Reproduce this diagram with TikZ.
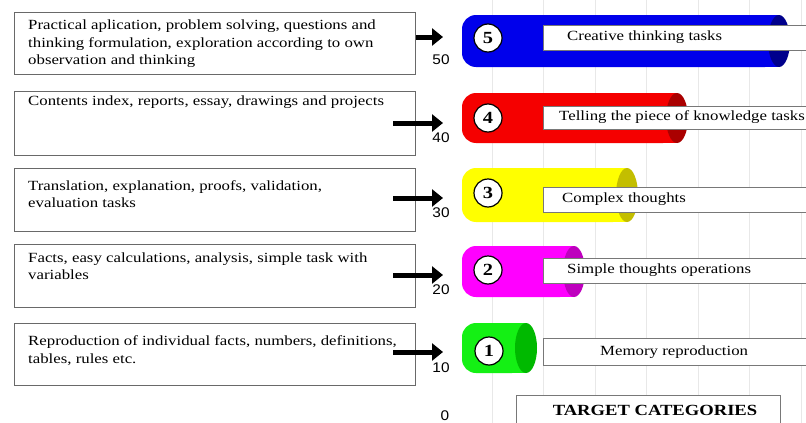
\documentclass[tikz,border=0pt]{standalone}
\usepackage{fontspec}
\setmainfont[FakeStretch=1.2]{Liberation Serif}
\newfontfamily\numfont[FakeStretch=1.1]{Liberation Sans}
\usetikzlibrary{arrows.meta}
\definecolor{cblue}{RGB}{0,0,235}
\definecolor{cbluecap}{RGB}{0,0,140}
\definecolor{cred}{RGB}{245,0,0}
\definecolor{credcap}{RGB}{170,0,0}
\definecolor{cyel}{RGB}{255,255,0}
\definecolor{cyelcap}{RGB}{195,190,0}
\definecolor{cmag}{RGB}{255,0,255}
\definecolor{cmagcap}{RGB}{190,0,190}
\definecolor{cgrn}{RGB}{20,240,20}
\definecolor{cgrncap}{RGB}{0,185,0}
\definecolor{boxline}{RGB}{105,105,105}
\definecolor{lblline}{RGB}{120,120,120}
\definecolor{gridc}{RGB}{232,232,232}
\newcommand\cylbody[7]{% fill, cap, xl, xr, yt, yb, ycenter
  \fill[#1,rounded corners=14pt] (#3,#5) rectangle ({#4-11},#6);
  \fill[#1] ({#3+20},#5) rectangle ({#4-11},#6);
  \fill[#2] ({#4-11},#7) ellipse [x radius=11pt, y radius={(#6-#5)/2*1pt}];
}
\begin{document}
\begin{tikzpicture}[x=1pt,y=-1pt,
  leftbox/.style={draw=boxline, line width=1.2pt, minimum width=401pt, anchor=north west, inner sep=0pt},
  lefttext/.style={anchor=north west, align=left, font=\fontsize{14}{17.5}\selectfont, inner sep=0pt},
  lblbox/.style={draw=lblline, line width=1.3pt, fill=white, minimum width=300pt, anchor=north west, inner sep=0pt},
  lbltext/.style={anchor=west, font=\fontsize{14}{17}\selectfont, inner sep=0pt},
  numcirc/.style={circle, draw=black, fill=white, line width=1.2pt, minimum size=28pt, inner sep=0pt, font=\fontsize{17}{17}\selectfont\bfseries},
  axisnum/.style={font=\numfont\fontsize{14}{14}\selectfont, inner sep=0pt},
  bigarrow/.style={line width=5pt, -{Triangle[length=11pt,width=17pt]}},
  gridline/.style={draw=gridc, line width=0.8pt}]
\useasboundingbox (0,0) rectangle (806,423);
\fill[white] (0,0) rectangle (806,423);
% background grid
\foreach \gx in {492,543.5,595,646.5,698,749.5,801}
  \draw[gridline] (\gx,0) -- (\gx,423);
% left boxes
\node[leftbox, minimum height=62pt] (b5) at (14,12) {};
\node[leftbox, minimum height=64pt] (b4) at (14,91) {};
\node[leftbox, minimum height=63pt] (b3) at (14,168) {};
\node[leftbox, minimum height=63pt] (b2) at (14,244) {};
\node[leftbox, minimum height=62pt] (b1) at (14,323) {};
\node[lefttext] (t5) at (28,20) {Practical aplication, problem solving, questions and\\thinking formulation, exploration according to own\\observation and thinking};
\node[lefttext] (t4) at (28,96) {Contents index, reports, essay, drawings and projects};
\node[lefttext] (t3) at (28,180) {Translation, explanation, proofs, validation,\\evaluation tasks};
\node[lefttext] (t2) at (28,252.5) {Facts, easy calculations, analysis, simple task with\\variables};
\node[lefttext] (t1) at (28,335.5) {Reproduction of individual facts, numbers, definitions,\\tables, rules etc.};
% arrows
\coordinate (a5s) at (416,37); \coordinate (a5e) at (443,37);
\coordinate (a4s) at (393,123); \coordinate (a4e) at (443,123);
\coordinate (a3s) at (393,198); \coordinate (a3e) at (443,198);
\coordinate (a2s) at (393,275); \coordinate (a2e) at (443,275);
\coordinate (a1s) at (393,352); \coordinate (a1e) at (443,352);
\foreach \i in {1,...,5} \draw[bigarrow] (a\i s) -- (a\i e);
% axis numbers
\node[axisnum] (n50) at (441,60) {50};
\node[axisnum] (n40) at (441,138) {40};
\node[axisnum] (n30) at (441,213) {30};
\node[axisnum] (n20) at (441,290) {20};
\node[axisnum] (n10) at (441,368) {10};
\node[axisnum] (n0) at (445,416) {0};
% cylinders
\cylbody{cblue}{cbluecap}{462}{790}{15}{67}{41}
\cylbody{cred}{credcap}{462}{688}{93}{143}{118}
\cylbody{cyel}{cyelcap}{462}{638}{168}{222}{195}
\cylbody{cmag}{cmagcap}{462}{585}{246}{297}{271.5}
\cylbody{cgrn}{cgrncap}{462}{537}{323}{373}{348}
% number circles
\node[numcirc] (c5) at (488,38) {5};
\node[numcirc] (c4) at (488,118) {4};
\node[numcirc] (c3) at (488,193) {3};
\node[numcirc] (c2) at (488,270) {2};
\node[numcirc] (c1) at (489,351) {1};
% label boxes
\node[lblbox, minimum height=25pt] (l5) at (543,25) {};
\node[lblbox, minimum height=23pt] (l4) at (543,106) {};
\node[lblbox, minimum height=25pt] (l3) at (543,187) {};
\node[lblbox, minimum height=25pt] (l2) at (543,258) {};
\node[lblbox, minimum height=27pt] (l1) at (543,338) {};
\node[lbltext] (x5) at (567,37.5) {Creative thinking tasks};
\node[lbltext] (x4) at (559,117.5) {Telling the piece of knowledge tasks};
\node[lbltext] (x3) at (562,199.5) {Complex thoughts};
\node[lbltext] (x2) at (567,270.5) {Simple thoughts operations};
\node[lbltext] (x1) at (600,352) {Memory reproduction};
% target categories
\node[draw=lblline, line width=1pt, fill=white, anchor=north west, minimum width=264pt, minimum height=40pt, inner sep=0pt] (tc) at (516,395) {};
\node[font=\fontsize{15.5}{16}\selectfont\bfseries, inner sep=0pt] (tct) at (655,410) {TARGET CATEGORIES};
\end{tikzpicture}
\end{document}
